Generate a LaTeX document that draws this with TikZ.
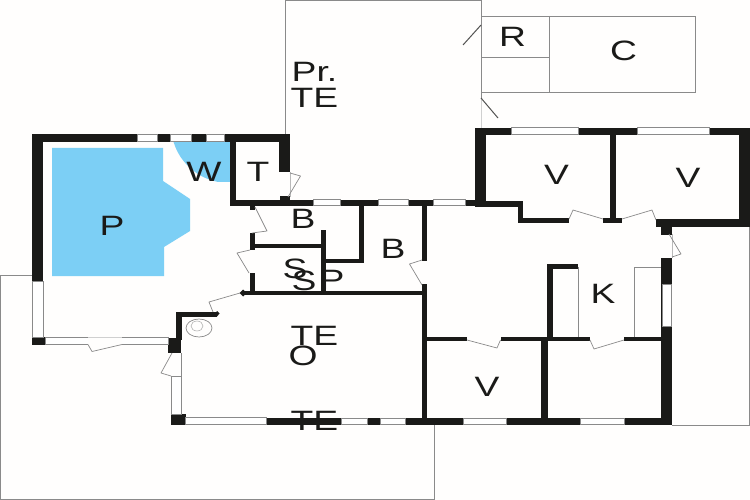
\documentclass[tikz,border=0pt]{standalone}
\usepackage{fontspec}
\setmainfont[FakeStretch=1.33]{Liberation Sans}
\definecolor{wallc}{HTML}{1A1A18}
\definecolor{linec}{HTML}{8A8A8A}
\definecolor{poolc}{HTML}{7CCFF5}
\definecolor{paper}{HTML}{FFFEFD}
\tikzset{
  wall/.style={fill=wallc},
  thinline/.style={draw=linec,line width=0.9pt},
  doorleaf/.style={draw=linec,line width=0.7pt,line join=round},
  darkleaf/.style={draw=wallc!75,line width=1pt},
  windowpane/.style={fill=white,draw=linec,line width=0.8pt},
  room/.style={font=\fontsize{28}{28}\selectfont,text=wallc,anchor=base,inner sep=0pt,outer sep=0pt},
  pool/.style={fill=poolc}
}
\newcommand{\wl}[4]{\fill[wall] (#1,#2) rectangle (#3,#4);}
\newcommand{\wnd}[4]{\path[windowpane] (#1,#2) rectangle (#3,#4);}
\begin{document}
\begin{tikzpicture}[x=1pt,y=-1pt]
\useasboundingbox (0,0) rectangle (750,500);
\fill[paper] (0,0) rectangle (750,500);
% blue areas
\path[pool] (52,148) -- (163,148) -- (163,181) -- (190,199) -- (190,231) -- (164,247) -- (164,276) -- (52,276) -- cycle;
\begin{scope}
\clip (172,142) rectangle (230,182);
\path[pool] (229,125) circle[radius=58];
\end{scope}
% thin outlines
\draw[thinline] (32,275) -- (0.7,275) -- (0.7,499.3) -- (434,499.3) -- (434,425);
\draw[thinline] (285,134) -- (285,0.6) -- (481,0.6) -- (481,25);
\draw[thinline] (481,51) -- (481,98);
\draw[draw=linec!40,line width=0.6pt] (481,98) -- (481,128);
\draw[thinline] (481,16) rectangle (695,92);
\draw[thinline] (549,16) -- (549,92);
\draw[thinline] (481,57) -- (549,57);
\draw[thinline] (672,226) -- (749.3,226) -- (749.3,425) -- (672,425);
\draw[thinline] (578,267) -- (578,338);
\draw[thinline] (661,267) -- (634,267) -- (634,338);
\draw[thinline] (181,353) -- (181,415);
\draw[draw=linec!60,line width=0.6pt] (672,234) -- (672,258);
\draw[draw=linec!60,line width=0.6pt] (290,172) -- (290,197);
% outer walls, west part
\wl{31.5}{134}{290}{142}
\wl{31.5}{134}{43}{281}
\wl{32}{337}{45}{345}
\wl{168}{338}{181}{353}
\wl{176}{312}{182}{340}
\wl{176}{312}{217}{316.5}
\wl{171}{414}{186}{425}
\wl{185}{418}{671}{425}
% T room
\wl{229.5}{142}{235.5}{206}
\wl{279}{134}{290}{172.5}
\wl{280}{196}{290}{201}
\wl{229.5}{200}{486}{206}
% inner west partition
\wl{250}{206}{255}{210}
\wl{249.5}{233}{255}{250}
\wl{249.5}{273}{255}{294}
\wl{249.5}{243.5}{322}{248}
\wl{321}{230}{326}{294}
\wl{326}{258.5}{364}{262.5}
\wl{358.5}{206}{364}{262.5}
\wl{243}{290.5}{427}{295}
\wl{422}{206}{427}{260.5}
\wl{422}{284}{427}{425}
% east rooms
\wl{475}{128}{749.5}{135}
\wl{475}{128}{486}{206}
\wl{475}{200.5}{523}{207}
\wl{517.5}{201}{523}{223}
\wl{517.5}{218}{569}{223}
\wl{602.5}{218}{622}{222.5}
\wl{609.5}{134}{616}{222}
\wl{656}{219}{749.5}{226.5}
\wl{738.5}{128}{749.5}{226}
\wl{661}{219}{672}{234.5}
\wl{661}{257.5}{672}{425}
\wl{427}{337}{467}{341}
\wl{500.5}{337}{590}{341}
\wl{624}{337}{661}{341}
\wl{541}{338}{547.5}{420}
\wl{547}{264}{553}{338}
\wl{547}{264}{578}{268.5}
% windows
\wnd{137}{134.5}{157}{141.5}
\wnd{170.5}{134.5}{191.5}{141.5}
\wnd{206}{134.5}{224}{141.5}
\wnd{32.5}{281}{43}{337}
\wnd{45}{337.5}{168}{344.5}
\wnd{171.5}{376.5}{181}{414}
\wnd{185.5}{417.5}{266}{424.5}
\wnd{341}{418}{367}{424.5}
\wnd{380}{418}{405.5}{424.5}
\wnd{463.5}{418}{506}{424.5}
\wnd{580}{418}{624}{424.5}
\wnd{313}{199.5}{340}{205.5}
\wnd{378}{199.5}{408}{205.5}
\wnd{433.5}{199.5}{465}{205.5}
\wnd{511}{127.7}{578}{134}
\wnd{637.5}{127.7}{709}{134}
\wnd{662}{284}{671.5}{326.5}
% door gap, south west
\fill[paper] (88,336.5) rectangle (122,345.5);
\draw[draw=linec!40,line width=0.5pt] (88,337) -- (122,337);
\draw[doorleaf] (122,344.5) -- (92,351.5) -- (88,344.5);
% door leaves
\draw[doorleaf] (172,353) -- (161,373) -- (171,376);
\draw[doorleaf] (240,293) -- (209,302) -- (213,312);
\draw[doorleaf] (255,207) -- (267,231) -- (252,233);
\draw[doorleaf] (250,250) -- (237,253) -- (249,273);
\draw[doorleaf] (422,260) -- (409.5,264) -- (422,285);
\draw[doorleaf] (290,173) -- (300.5,176) -- (288,197);
\draw[doorleaf] (603,219) -- (573,210) -- (569,219);
\draw[doorleaf] (622,219) -- (652,210) -- (656,220);
\draw[doorleaf] (669,234) -- (681,254) -- (672,257);
\draw[doorleaf] (467,340) -- (497,348) -- (500.5,340);
\draw[doorleaf] (590,340) -- (594,349) -- (624,340);
\draw[darkleaf] (481,25) -- (463,45);
\draw[darkleaf] (481,98) -- (498,118);
% door-stop diamonds
\fill[wall] (239.5,293) -- (243,289.5) -- (247,293) -- (243,296.5) -- cycle;
\fill[wall] (214,316.5) -- (217,311) -- (219.5,313.5) -- (217,316.5) -- cycle;
% stove
\draw[draw=linec,line width=0.7pt] (199,328) ellipse[x radius=13,y radius=9];
\draw[draw=linec!70,line width=0.5pt] (197,326) ellipse[x radius=6,y radius=5];
% labels
\node[room] (lP) at (112,235) {P};
\node[room] (lW) at (204,182) {W};
\node[room] (lT) at (258,182) {T};
\node[room] (lB1) at (303,229) {B};
\node[room] (lB2) at (393,258) {B};
\node[room] (lS1) at (295,278) {S};
\node[room] (lS2) at (304,290) {S};
\node[room] (lPb) at (332,289) {P};
\node[room] (lPr) at (314.5,82) {Pr.};
\node[room] (lTE1) at (314.5,108) {TE};
\node[room] (lTE2) at (314.5,345) {TE};
\node[room] (lO) at (303,365) {O};
\node[room] (lTE3) at (314.5,430) {TE};
\node[room] (lR) at (512.5,47) {R};
\node[room] (lC) at (623.5,61) {C};
\node[room] (lV1) at (556.5,185) {V};
\node[room] (lV2) at (688,188) {V};
\node[room] (lK) at (603,303) {K};
\node[room] (lV3) at (487,396) {V};
\end{tikzpicture}
\end{document}
